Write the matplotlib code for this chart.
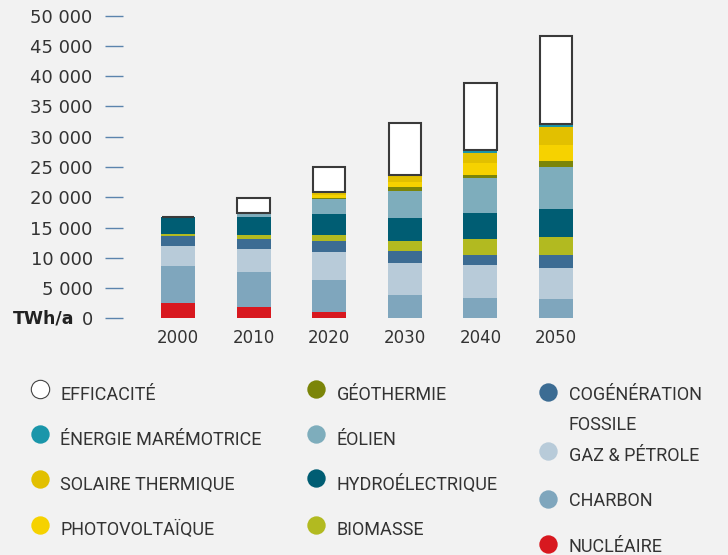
import matplotlib
matplotlib.use("Agg")
import matplotlib.pyplot as plt
import numpy as np

# Data (TWh/a)
years = ["2000", "2010", "2020", "2030", "2040", "2050"]
nucleaire = [2480, 1820, 990, 0, 0, 0]
charbon = [6100, 5780, 5280, 3800, 3300, 3140]
gaz_petrole = [3300, 3800, 4620, 5280, 5450, 5120]
cogeneration = [1650, 1650, 1820, 1980, 1650, 2150]
biomasse = [380, 660, 990, 1650, 2640, 2970]
hydro = [2750, 2970, 3470, 3800, 4290, 4620]
eolien = [0, 780, 2480, 4460, 5780, 6930]
geothermie = [0, 0, 250, 660, 550, 990]
photovoltaique = [0, 0, 540, 830, 1980, 2640]
solaire_thermique = [0, 0, 400, 1160, 1600, 2970]
maremotrice = [0, 0, 0, 0, 550, 550]
efficacite = [0, 2480, 4170, 8630, 11060, 14520]

yticks = [0, 5000, 10000, 15000, 20000, 25000, 30000, 35000, 40000, 45000, 50000]
ytick_labels = ["0", "5 000", "10 000", "15 000", "20 000", "25 000",
                "30 000", "35 000", "40 000", "45 000", "50 000"]

# stack order, bottom to top
stack = [
    ("NUCLÉAIRE", nucleaire, "#d8181f"),
    ("CHARBON", charbon, "#7fa6bd"),
    ("GAZ & PÉTROLE", gaz_petrole, "#b8cbd9"),
    ("COGÉNÉRATION", cogeneration, "#3c6c93"),
    ("BIOMASSE", biomasse, "#b2ba20"),
    ("HYDROÉLECTRIQUE", hydro, "#005d73"),
    ("ÉOLIEN", eolien, "#7eadbc"),
    ("GÉOTHERMIE", geothermie, "#7b8509"),
    ("PHOTOVOLTAÏQUE", photovoltaique, "#f6d200"),
    ("SOLAIRE THERMIQUE", solaire_thermique, "#e2c000"),
    ("ÉNERGIE MARÉMOTRICE", maremotrice, "#1a96aa"),
]
colors = {name: c for name, _, c in stack}
colors["EFFICACITÉ"] = "white"

bg = "#f2f2f2"
txt = "#333333"
W, H = 728, 555

plt.rcParams["font.family"] = ["DejaVu Sans"]

fig = plt.figure(figsize=(W / 100, H / 100), dpi=100, facecolor=bg)

# main axes, placed in pixels
x0, y_zero, y_top, step = 140.2, 318.3, 15.7, 75.6
ax = fig.add_axes([x0 / W, (H - y_zero) / H, 6 * step / W, (y_zero - y_top) / H])
ax.set_facecolor(bg)
for s in ["top", "right", "bottom"]:
    ax.spines[s].set_visible(False)
ax.spines["left"].set_position(("outward", 12.2))
ax.spines["left"].set_visible(False)

x = np.arange(len(years))
bottom = np.zeros(len(years))
for name, vals, col in stack:
    ax.bar(x, vals, 0.45, bottom=bottom, color=col, linewidth=0)
    bottom += np.array(vals)
ax.bar(x, efficacite, 0.43, bottom=bottom, color="white",
       edgecolor="#3a3a3a", linewidth=1.5)

ax.set_xlim(-0.5, 5.5)
ax.set_ylim(0, 50000)
ax.set_xticks(x)
ax.set_xticklabels(years)
ax.set_yticks(yticks)
ax.set_yticklabels(ytick_labels)
ax.tick_params(axis="x", length=0, pad=7.5, labelsize=12, labelcolor=txt)
ax.tick_params(axis="y", length=13, width=1.0, color="#5b84ad", pad=9,
               labelsize=13, labelcolor=txt)

fig.text(74 / W, (H - y_zero) / H, "TWh/a", ha="right", va="center",
         fontsize=12.5, fontweight="bold", color="#222222")

# legend drawn by hand on an overlay in pixel coordinates
leg = fig.add_axes([0, 0, 1, 1], zorder=-1)
leg.set_xlim(0, W)
leg.set_ylim(H, 0)
leg.axis("off")

legend_items = [
    # name, circle x, circle y, text x, text baseline
    ("EFFICACITÉ", 39.5, 389, 60, 400),
    ("ÉNERGIE MARÉMOTRICE", 39.5, 433.5, 60, 445),
    ("SOLAIRE THERMIQUE", 39.5, 479, 60, 490),
    ("PHOTOVOLTAÏQUE", 39.5, 525.3, 60, 535),
    ("GÉOTHERMIE", 316, 389, 337, 400),
    ("ÉOLIEN", 316, 433.5, 337, 445),
    ("HYDROÉLECTRIQUE", 316, 477.5, 337, 490),
    ("BIOMASSE", 316, 525.3, 337, 535),
    ("COGÉNÉRATION", 547.5, 391.5, 569, 400),
    ("GAZ & PÉTROLE", 547.5, 451, 569, 461),
    ("CHARBON", 547.5, 499, 569, 506),
    ("NUCLÉAIRE", 547.5, 544, 569, 551.5),
]
for name, cx, cy, tx, ty in legend_items:
    edge = "#444444" if name == "EFFICACITÉ" else colors[name]
    leg.scatter([cx], [cy], s=175, color=colors[name], edgecolors=edge,
                linewidths=0.8 if name == "EFFICACITÉ" else 0, clip_on=False)
    leg.text(tx, ty, name, ha="left", va="baseline", fontsize=13,
             family=["Roboto", "DejaVu Sans"], color=txt)
leg.text(569, 430, "FOSSILE", ha="left", va="baseline", fontsize=13,
         family=["Roboto", "DejaVu Sans"], color=txt)

fig.savefig("out.png", dpi=100, facecolor=bg)
